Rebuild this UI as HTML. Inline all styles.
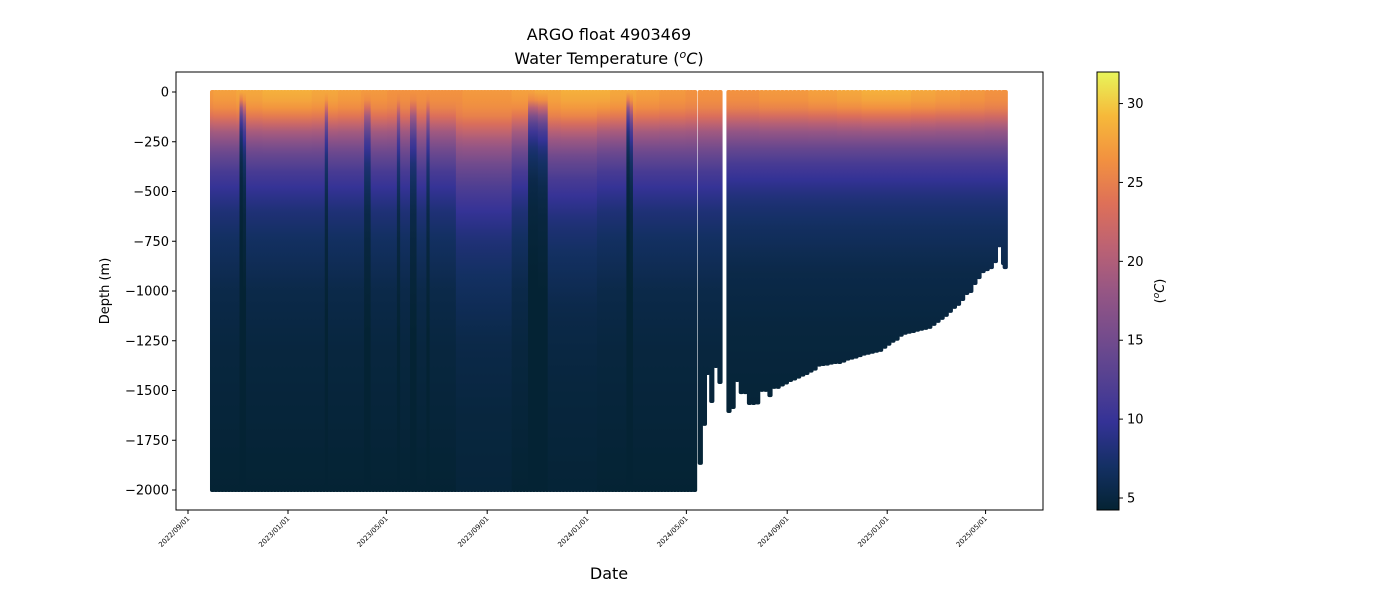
<!DOCTYPE html>
<html><head><meta charset="utf-8">
<style>body{margin:0;background:#fff;font-family:"Liberation Sans","DejaVu Sans",sans-serif}</style>
</head><body>
<svg id="chart" width="1400" height="600" xmlns="http://www.w3.org/2000/svg" font-family="DejaVu Sans, Liberation Sans, sans-serif">
<defs id="defs"></defs>
<text x="609" y="40" font-size="16" text-anchor="middle">ARGO float 4903469</text>
<text x="609" y="64" font-size="16" text-anchor="middle">Water Temperature (<tspan font-style="italic" baseline-shift="super" font-size="11">o</tspan><tspan font-style="italic">C</tspan>)</text>
<g id="marks"></g>
<rect x="176" y="72" width="867" height="438" fill="none" stroke="#000" stroke-width="1"/>
<g id="axes"></g>
<text transform="translate(109,291) rotate(-90)" font-size="13" text-anchor="middle">Depth (m)</text>
<text x="609" y="579" font-size="16" text-anchor="middle">Date</text>
<rect x="1097" y="72" width="22" height="438" fill="url(#cbgrad)" stroke="#000" stroke-width="1"/>
<text transform="translate(1164,291) rotate(-90)" font-size="13" text-anchor="middle">(<tspan font-style="italic" baseline-shift="super" font-size="9">o</tspan><tspan font-style="italic">C</tspan>)</text>
</svg>
<script>
const yTicks=[0,-250,-500,-750,-1000,-1250,-1500,-1750,-2000];
const xTickLabels=["2022/09/01","2023/01/01","2023/05/01","2023/09/01","2024/01/01","2024/05/01","2024/09/01","2025/01/01","2025/05/01"];
const xTickDays=[0,122,242,365,487,608,731,853,973];
const cbTicks=[5,10,15,20,25,30];
const mainStartDay=30, mainEndDay=621, mainStep=4, mainDepth=2000;
const tailDays=[625,630,634,639,644,649,660,665,670,675,680,685,690,695,700,705,710,715,720,725,730,735,740,745,750,755,760,765,770,775,780,785,790,795,800,805,810,815,820,825,830,835,840,845,850,855,860,865,870,875,880,885,890,895,900,905,910,915,920,925,930,935,940,945,950,955,960,965,970,975,980,985,990,995,997];
const tailDepths=[1864,1668,1412,1553,1377,1457,1603,1583,1447,1508,1508,1563,1563,1560,1497,1497,1523,1482,1482,1470,1460,1447,1440,1430,1420,1412,1400,1390,1370,1367,1365,1360,1357,1357,1350,1340,1335,1330,1322,1315,1310,1305,1300,1296,1280,1265,1250,1240,1220,1210,1205,1201,1195,1190,1185,1180,1165,1150,1135,1120,1100,1080,1065,1040,1010,1000,960,930,900,890,880,850,770,860,880];
const baseDepths=[0,50,100,150,200,300,400,500,600,750,1000,1300,2000];
const baseTemps=[27,26.5,25,22,19,14.5,11.5,9.5,8,6.8,5.5,4.9,4.3];
const streakDays=[65,70,170,220,258,276,294,420,425,432,437,537,542];
const streakScale=[0.35,0.5,0.55,0.6,0.6,0.6,0.6,0.45,0.45,0.5,0.5,0.35,0.5];
const warmRanges=[[330,395,1.25],[440,500,1.1],[660,1000,0.9]];
const surfaceTemps=[27,27.5,28,28.5,28.5,28,27.5,27,26.5,26.5,26.5,27];
const NS="http://www.w3.org/2000/svg";
const cmap=[[0,[4,35,51]],[0.1,[20,48,100]],[0.2,[52,50,150]],[0.3,[85,65,145]],[0.4,[118,76,140]],[0.5,[150,86,132]],[0.6,[188,98,115]],[0.7,[222,112,88]],[0.8,[242,145,64]],[0.9,[246,185,58]],[1,[232,245,90]]];
const tMin=4.24,tMax=32;
function col(t){let f=Math.max(0,Math.min(1,(t-tMin)/(tMax-tMin)));for(let i=1;i<cmap.length;i++){if(f<=cmap[i][0]){const a=cmap[i-1],b=cmap[i],u=(f-a[0])/(b[0]-a[0]);return `rgb(${a[1].map((v,k)=>Math.round(v+(b[1][k]-v)*u)).join(',')})`;}}return 'rgb(232,245,90)';}
const xS=d=>188+d*0.8197, yS=z=>92+(-z)*0.199;
const cbY=t=>510-(t-tMin)/(tMax-tMin)*438;
const defs=document.getElementById('defs'),marks=document.getElementById('marks'),axes=document.getElementById('axes');
function mk(tag,attrs,parent){const e=document.createElementNS(NS,tag);for(const k in attrs)e.setAttribute(k,attrs[k]);parent.appendChild(e);return e;}
function scaleFor(d){let s=1;warmRanges.forEach(r=>{if(d>=r[0]&&d<=r[1])s=r[2];});streakDays.forEach((sd,i)=>{if(Math.abs(d-sd)<3)s=streakScale[i];});return s;}
function temp(z,ts,s){const zz=z/s;let t=baseTemps[baseTemps.length-1];for(let i=1;i<baseDepths.length;i++){if(zz<=baseDepths[i]){const u=(zz-baseDepths[i-1])/(baseDepths[i]-baseDepths[i-1]);t=baseTemps[i-1]+(baseTemps[i]-baseTemps[i-1])*u;break;}}return t+(ts-27)*Math.max(0,1-zz/300);}
const profiles=[];
for(let d=mainStartDay;d<=mainEndDay;d+=mainStep)profiles.push([d,mainDepth]);
tailDays.forEach((d,i)=>profiles.push([d,tailDepths[i]]));
profiles.forEach((p,i)=>{
  const d=p[0],dep=p[1],s=scaleFor(d),ts=surfaceTemps[Math.floor(d/30.4)%12];
  const g=mk('linearGradient',{id:'g'+i,gradientUnits:'userSpaceOnUse',x1:0,x2:0,y1:yS(0),y2:yS(-2000)},defs);
  for(let z=0;z<=2000;z+=40)mk('stop',{offset:(z/2000).toFixed(3),'stop-color':col(temp(z,ts,s))},g);
  const r=mk('rect',{x:xS(d)-2.6,y:yS(0)-2,width:5.2,height:yS(-dep)-yS(0)+4,rx:2,fill:`url(#g${i})`},marks);
  
  
});
yTicks.forEach(v=>{
  const y=yS(v);
  mk('line',{x1:172,x2:176,y1:y,y2:y,stroke:'#000'},axes);
  const t=mk('text',{x:169,y:y+4.5,'font-size':13,'text-anchor':'end'},axes);t.textContent=v===0?'0':'\u2212'+(-v);
  
  
});
xTickDays.forEach((d,i)=>{
  const x=xS(d);
  mk('line',{x1:x,x2:x,y1:510,y2:514,stroke:'#000'},axes);
  const t=mk('text',{transform:`translate(${x+2},${519}) rotate(-45)`,'font-size':7,'text-anchor':'end'},axes);t.textContent=xTickLabels[i];
  
  
});
const cg=mk('linearGradient',{id:'cbgrad',x1:0,x2:0,y1:1,y2:0},defs);
for(let k=0;k<=20;k++)mk('stop',{offset:k/20,'stop-color':col(tMin+(tMax-tMin)*k/20)},cg);
cbTicks.forEach(v=>{
  const y=cbY(v);
  mk('line',{x1:1119,x2:1123,y1:y,y2:y,stroke:'#000'},axes);
  const t=mk('text',{x:1127,y:y+4.5,'font-size':13},axes);t.textContent=v;
  
  
});
</script>
</body></html>
